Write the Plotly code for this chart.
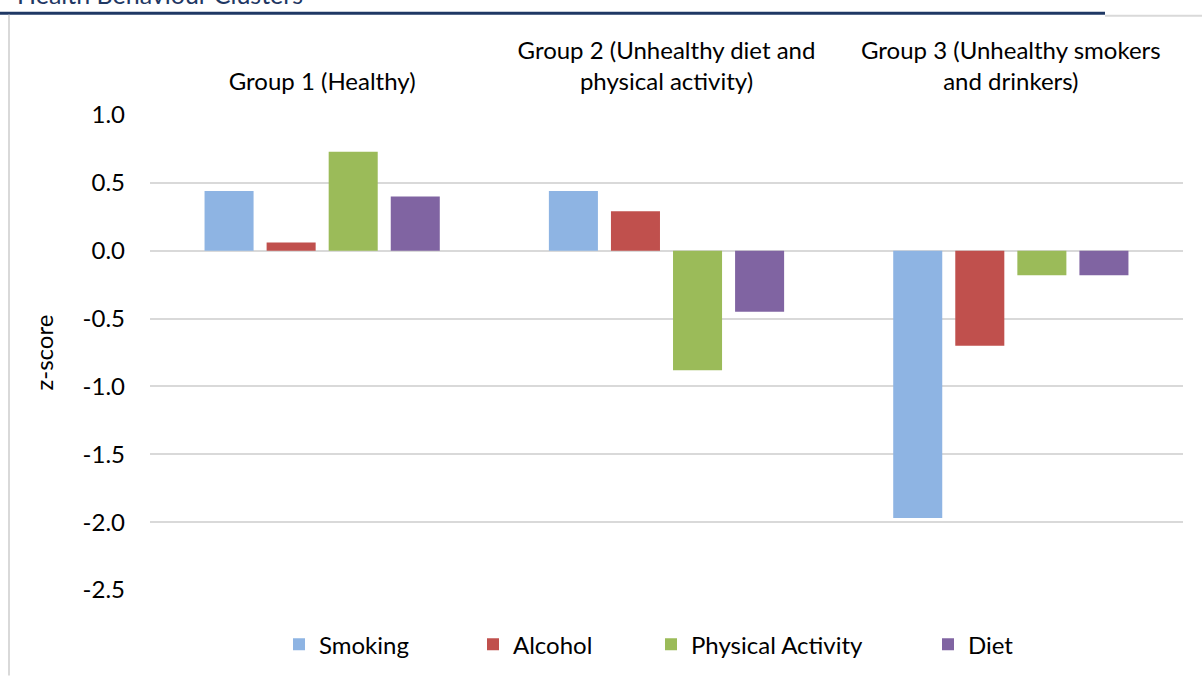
import plotly.graph_objects as go

groups = ["Group 1 (Healthy)",
          "Group 2 (Unhealthy diet and<br>physical activity)",
          "Group 3 (Unhealthy smokers<br>and drinkers)"]
smoking = [0.44, 0.44, -1.97]
alcohol = [0.06, 0.29, -0.70]
physical_activity = [0.73, -0.88, -0.18]
diet = [0.40, -0.45, -0.18]
series_names = ["Smoking", "Alcohol", "Physical Activity", "Diet"]
colors = ["#8EB4E3", "#C0504D", "#9BBB59", "#8064A2"]
y_ticks = [1.0, 0.5, 0.0, -0.5, -1.0, -1.5, -2.0, -2.5]
title_text = "Health Behaviour Clusters"

W, H = 1202, 679
L, R, T, B = 150, 19, 115, 86
pw, ph = W - L - R, H - T - B

def px_x(p):
    return (p - L) / pw

def px_y(p):
    return (H - B - p) / ph

FONT = "Lato"
FS = 24
fig = go.Figure()
legend_left = [297, 491, 669, 946]
for i, (name, vals, col) in enumerate(zip(series_names, [smoking, alcohol, physical_activity, diet], colors)):
    lg = "legend" if i == 0 else f"legend{i+1}"
    fig.add_trace(go.Bar(x=groups, y=vals, name=name, marker_color=col,
                         marker_line_width=0, legend=lg))

layout_legends = {}
for i, lx in enumerate(legend_left):
    key = "legend" if i == 0 else f"legend{i+1}"
    layout_legends[key] = dict(x=px_x(lx - 18), xanchor="left", y=px_y(648), yanchor="middle",
                               orientation="h", font=dict(family=FONT, size=FS, color="#000000"),
                               bgcolor="rgba(0,0,0,0)", itemclick=False)

fig.update_layout(
    width=W, height=H,
    margin=dict(l=L, r=R, t=T, b=B, pad=0),
    paper_bgcolor="white", plot_bgcolor="white",
    barmode="group", bargap=0.279, bargroupgap=0.21,
    font=dict(family=FONT, size=FS, color="#000000"),
    xaxis=dict(side="top", showgrid=False, zeroline=False, showline=False, ticks="",
               tickfont=dict(family=FONT, size=FS, color="#000000"), ticklabelstandoff=19),
    yaxis=dict(range=[-2.5, 1.0], tickvals=y_ticks, ticktext=[f"{v:.1f}" for v in y_ticks],
               showgrid=True, gridcolor="#D9D9D9", gridwidth=1.5,
               zeroline=True, zerolinecolor="#D9D9D9", zerolinewidth=1.5,
               showline=False, ticks="", ticklabelstandoff=24,
               tickfont=dict(family=FONT, size=FS, color="#000000"),
               title=dict(text="z-score", font=dict(family=FONT, size=FS, color="#000000"), standoff=22)),
    showlegend=True,
    **layout_legends,
)

fig.add_annotation(text=title_text, xref="paper", yref="paper", x=px_x(15), y=px_y(10),
                   xanchor="left", yanchor="bottom", showarrow=False,
                   font=dict(family=FONT, size=25, color="#1F3864"))
# header rule and frame lines
fig.add_shape(type="line", xref="paper", yref="paper", x0=px_x(0), x1=px_x(1105), y0=px_y(12.5), y1=px_y(12.5),
              line=dict(color="#1F3864", width=3))
fig.add_shape(type="line", xref="paper", yref="paper", x0=px_x(1105), x1=px_x(1202), y0=px_y(15), y1=px_y(15),
              line=dict(color="#D9D9D9", width=2))
fig.add_shape(type="line", xref="paper", yref="paper", x0=px_x(9), x1=px_x(9), y0=px_y(14), y1=px_y(679),
              line=dict(color="#D9D9D9", width=2))

fig.write_html("out.html")
